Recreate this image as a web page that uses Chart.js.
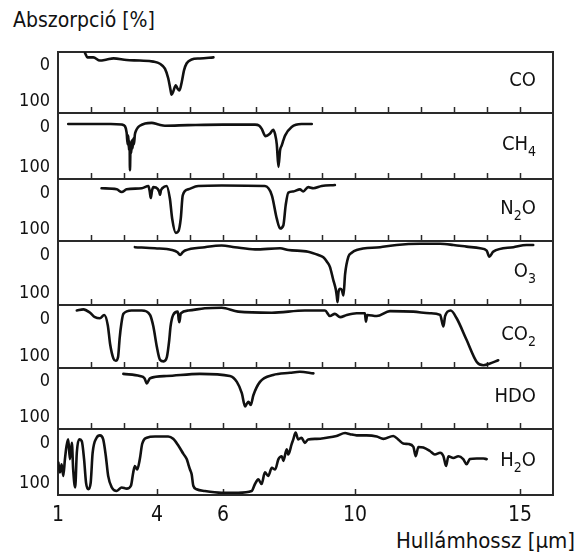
<!DOCTYPE html>
<html>
<head>
<meta charset="utf-8">
<script src="https://cdn.jsdelivr.net/npm/chart.js@4.4.1/dist/chart.umd.min.js"></script>
<style>
  html, body { margin: 0; padding: 0; background: #fff; }
  #fig { position: relative; width: 576px; height: 555px; overflow: hidden;
         font-family: 'DejaVu Sans Condensed', 'DejaVu Sans', sans-serif; color: #111; }
  #fig canvas { position: absolute; left: 0; }
  .axis-title { position: absolute; line-height: 20px; white-space: nowrap; }
  #ytitle { left: 13px; top: 10px; font-size: 21px; }
  #xtitle { right: 1px; top: 531px; font-size: 22px; }
</style>
</head>
<body>
<div id="fig">
  <div id="ytitle" class="axis-title">Abszorpció [%]</div>
  <div id="xtitle" class="axis-title">Hullámhossz [µm]</div>
</div>
<script>
// ---- Absorption spectra (wavelength in µm, absorption in %) ----
const species = ['CO', 'CH4', 'N2O', 'O3', 'CO2', 'HDO', 'H2O'];

const coWavelength = [1.82, 1.89, 2.07, 2.27, 2.48, 2.68, 3.08, 3.48, 3.89, 4.09, 4.24, 4.34,
  4.41, 4.44, 4.49, 4.57, 4.62, 4.68, 4.75, 4.82, 4.90, 5.05, 5.30, 5.71];
const coAbsorption = [-7, 1, 1, 7, 5, 3, 6, 7, 9, 13, 22, 40,
  62, 71, 65, 53, 59, 63, 47, 25, 12, 5, 3, 1];

const ch4Wavelength = [1.31, 2.0, 2.6, 2.93, 3.03, 3.08, 3.11, 3.13, 3.15, 3.17, 3.18, 3.20,
  3.22, 3.24, 3.26, 3.28, 3.30, 3.33, 3.36, 3.42, 3.48, 3.64, 3.84, 4.05, 4.24, 4.94, 6.0,
  6.97, 7.10, 7.17, 7.29, 7.42, 7.52, 7.58, 7.63, 7.68, 7.73, 7.78, 7.83, 7.88, 8.08, 8.38, 8.69];
const ch4Absorption = [10, 10, 10, 11, 14, 25, 45, 30, 55, 40, 90, 45,
  60, 38, 52, 35, 45, 28, 22, 16, 13, 9, 8, 11, 13, 12, 11,
  11, 13, 18, 31, 27, 20, 28, 45, 84, 55, 47, 38, 30, 15, 10, 10];

const n2oWavelength = [2.32, 2.78, 2.93, 3.08, 3.54, 3.74, 3.78, 3.81, 3.85, 3.89, 4.02, 4.07,
  4.09, 4.12, 4.16, 4.29, 4.39, 4.46, 4.57, 4.65, 4.72, 4.78, 4.95, 5.25, 5.96, 7.27, 7.48,
  7.63, 7.73, 7.83, 7.90, 7.98, 8.13, 8.33, 8.43, 8.58, 8.74, 8.99, 9.39];
const n2oAbsorption = [8, 10, 15, 10, 8, 4, 14, 26, 12, 6, 9, 15,
  20, 12, 8, 4, 27, 64, 90, 87, 64, 21, 10, 4, 3, 4, 21,
  64, 82, 76, 39, 16, 14, 10, 14, 6, 8, 4, 2];

const o3Wavelength = [3.33, 3.94, 4.45, 4.62, 4.70, 4.78, 4.85, 5.45, 5.96, 6.36, 6.97, 7.73,
  7.98, 8.58, 8.89, 9.04, 9.15, 9.24, 9.34, 9.42, 9.45, 9.47, 9.50, 9.55, 9.60, 9.65, 9.70,
  9.80, 9.90, 10.05, 10.76, 11.26, 11.97, 12.58, 12.98, 13.38, 13.79, 13.99, 14.07, 14.19,
  14.80, 15.20, 15.40];
const o3Absorption = [2, 4, 7, 11, 16, 11, 8, 2, -1, 2, 6, 4,
  7, 10, 16, 20, 28, 37, 60, 78, 90, 100, 82, 76, 78, 88, 50,
  19, 12, 7, 2, -2, -4, -4, -2, 1, 4, 8, 19, 10,
  2, -2, -2];

const co2Wavelength = [1.57, 1.77, 1.97, 2.12, 2.27, 2.40, 2.51, 2.58, 2.68, 2.75, 2.82, 2.87,
  2.92, 2.98, 3.23, 3.54, 3.79, 3.89, 3.99, 4.09, 4.20, 4.30, 4.37, 4.41, 4.49, 4.63, 4.66,
  4.68, 4.72, 4.95, 5.45, 5.96, 6.46, 7.48, 8.48, 9.09, 9.24, 9.39, 9.55, 9.75, 10.05, 10.30,
  10.33, 10.37, 10.66, 11.06, 11.77, 12.27, 12.58, 12.68, 12.73, 12.90, 13.08, 13.38, 13.69,
  13.89, 14.09, 14.34];
const co2Absorption = [1, -1, 5, 13, 15, 9, 28, 62, 88, 92, 85, 50,
  25, 7, 1, 1, 9, 30, 65, 90, 93, 85, 55, 30, 9, 3, 18,
  22, 6, 1, -3, -4, 3, 5, 1, 1, 11, 7, 13, 9, 6, 6,
  21, 9, 11, 2, 3, 6, 9, 30, 11, 1, 15, 54, 94,
  100, 97, 91];

const hdoWavelength = [2.98, 3.48, 3.62, 3.69, 3.79, 4.29, 5.30, 6.21, 6.42, 6.57, 6.67, 6.72,
  6.77, 6.84, 6.92, 7.12, 7.52, 8.03, 8.33, 8.74];
const hdoAbsorption = [2, 6, 10, 20, 10, 6, 2, 6, 17, 38, 63, 58,
  54, 60, 42, 17, 4, 0, -2, 1];

const h2oWavelength = [1.01, 1.06, 1.11, 1.16, 1.21, 1.26, 1.31, 1.36, 1.42, 1.46,
  1.52, 1.57, 1.64, 1.72, 1.79, 1.85, 1.92, 1.99, 2.05, 2.17,
  2.27, 2.37, 2.45, 2.52, 2.63, 2.78, 2.93, 3.08, 3.21, 3.28,
  3.33, 3.40, 3.48, 3.55, 3.69, 3.94, 4.34, 4.49, 4.65, 4.80,
  4.90, 4.95, 5.00, 5.05, 5.10, 5.20, 5.45, 5.96, 6.46, 6.87,
  6.97, 7.07, 7.17, 7.27, 7.37, 7.48, 7.58, 7.68, 7.78, 7.83,
  7.93, 7.98, 8.08, 8.13, 8.20, 8.28, 8.38, 8.48, 8.58, 8.84,
  9.14, 9.44, 9.70, 9.85, 10.05, 10.35, 10.66, 10.86, 11.16, 11.31,
  11.46, 11.62, 11.77, 11.84, 11.92, 12.07, 12.27, 12.42, 12.58, 12.68,
  12.76, 12.83, 12.98, 13.13, 13.28, 13.38, 13.48, 13.69, 13.89, 13.99];
const h2oAbsorption = [49, 66, 52, 72, 43, 20, 9, 43, 15, 61,
  92, 32, 9, 12, 43, 84, 95, 84, 32, 6,
  2, 9, 38, 72, 92, 98, 92, 94, 89, 66,
  55, 61, 43, 17, 6, 4, 4, 8, 20, 34,
  43, 52, 61, 69, 89, 95, 98, 101, 101, 98,
  86, 78, 86, 66, 72, 58, 61, 43, 38, 46,
  26, 35, 17, 9, -3, 9, 6, 15, 9, 8,
  6, 3, -2, 0, 2, 2, 4, 8, 3, 9,
  16, 17, 22, 38, 22, 23, 29, 35, 32, 38,
  55, 38, 41, 38, 43, 52, 43, 42, 42, 43];

const xTickValues = [1, 4, 6, 10, 15];
const yTickValues = [0, 100];

const spectra = [
  [coWavelength, coAbsorption],
  [ch4Wavelength, ch4Absorption],
  [n2oWavelength, n2oAbsorption],
  [o3Wavelength, o3Absorption],
  [co2Wavelength, co2Absorption],
  [hdoWavelength, hdoAbsorption],
  [h2oWavelength, h2oAbsorption]
];

// ---- layout (page pixels) ----
const FONT = "'DejaVu Sans Condensed', 'DejaVu Sans', sans-serif";
const INK = '#111';
const FRAME = '#2a2a2a';
const panelEdges = [52, 113, 179, 241, 305, 368, 429, 495];
const AXIS_LEFT = 58, AXIS_RIGHT = 553, FIG_W = 576;
const PAD = 3;          // room for the frame lines around each panel
const X_AXIS_H = 60;    // tick labels under the last panel

// frame, inner tick marks and the species label of one panel
const panelDecor = {
  id: 'panelDecor',
  beforeDatasetsDraw(chart, args, opts) {
    const { ctx, chartArea: a } = chart;
    const xs = chart.scales.x;
    ctx.save();
    ctx.strokeStyle = FRAME;
    ctx.lineWidth = 2;
    ctx.beginPath();
    ctx.moveTo(a.left, a.top); ctx.lineTo(a.right, a.top);
    ctx.moveTo(a.left, a.bottom); ctx.lineTo(a.right, a.bottom);
    ctx.moveTo(a.right, a.top - 1); ctx.lineTo(a.right, a.bottom + 1);
    ctx.stroke();
    ctx.lineWidth = 1.5;
    ctx.beginPath();
    for (const v of opts.marks) {
      const px = Math.round(xs.getPixelForValue(v)) + 0.5;
      ctx.moveTo(px, a.bottom);
      ctx.lineTo(px, a.bottom - 6);
    }
    ctx.stroke();
    ctx.restore();
  },
  afterDraw(chart, args, opts) {
    const { ctx, chartArea: a } = chart;
    const runs = opts.label.match(/[A-Za-z]+|\d+/g).map(t => ({ t, sub: /\d/.test(t) }));
    const base = `20px ${FONT}`, small = `14px ${FONT}`;
    ctx.save();
    let w = 0;
    for (const r of runs) { ctx.font = r.sub ? small : base; r.w = ctx.measureText(r.t).width; w += r.w; }
    let x = a.right - 17 - w;
    const baseline = a.top + (a.bottom - a.top) * 0.45 + 7;
    ctx.fillStyle = INK;
    ctx.textBaseline = 'alphabetic';
    for (const r of runs) {
      ctx.font = r.sub ? small : base;
      ctx.fillText(r.t, x, r.sub ? baseline + 6 : baseline);
      x += r.w;
    }
    ctx.restore();
  }
};

const fig = document.getElementById('fig');
const allIntegers = Array.from({ length: 14 }, (_, k) => k + 2);

species.forEach((name, i) => {
  const last = i === species.length - 1;
  const top = panelEdges[i], bottom = panelEdges[i + 1];
  const h = bottom - top;
  const canvas = document.createElement('canvas');
  const ch = PAD + h + (last ? X_AXIS_H : PAD);
  canvas.width = FIG_W; canvas.height = ch;
  canvas.style.width = FIG_W + 'px'; canvas.style.height = ch + 'px';
  canvas.style.top = (top - PAD) + 'px';
  fig.appendChild(canvas);

  const [wl, ab] = spectra[i];
  new Chart(canvas, {
    type: 'line',
    data: {
      datasets: [{
        data: wl.map((x, k) => ({ x, y: ab[k] })),
        borderColor: INK,
        borderWidth: 2.6,
        borderJoinStyle: 'round',
        borderCapStyle: 'round',
        pointRadius: 0,
        fill: false,
        cubicInterpolationMode: 'monotone'
      }]
    },
    options: {
      responsive: false,
      animation: false,
      events: [],
      layout: { padding: { left: 0, right: FIG_W - AXIS_RIGHT, top: PAD, bottom: last ? 0 : PAD } },
      plugins: {
        legend: { display: false },
        tooltip: { enabled: false },
        panelDecor: { label: name, marks: last ? xTickValues.slice(1) : allIntegers }
      },
      scales: {
        x: {
          type: 'linear', min: 1, max: 16, display: last,
          afterBuildTicks: s => { s.ticks = xTickValues.map(v => ({ value: v })); },
          afterFit: s => {
            s.height = last ? X_AXIS_H : 0;
            s.paddingLeft = 0; s.paddingRight = 0;
          },
          ticks: { font: { family: FONT, size: 21 }, color: INK, padding: 8, maxRotation: 0, autoSkip: false },
          grid: { display: false, drawTicks: false },
          border: { display: false }
        },
        y: {
          type: 'linear', reverse: true, min: -9, max: 105,
          afterBuildTicks: s => { s.ticks = yTickValues.map(v => ({ value: v })); },
          afterFit: s => { s.width = AXIS_LEFT; s.paddingTop = 0; s.paddingBottom = 0; },
          ticks: {
            font: { family: FONT, size: 18, lineHeight: 1 }, color: INK, padding: 8, autoSkip: false,
            // an empty line nudges "0" down and "100" up, away from the panel edges
            callback: v => (v === 0 ? ['', '0'] : [String(v), ''])
          },
          grid: { display: false, drawTicks: false },
          border: { display: true, color: FRAME, width: 2 }
        }
      }
    },
    plugins: [panelDecor]
  });
});
</script>
</body>
</html>
